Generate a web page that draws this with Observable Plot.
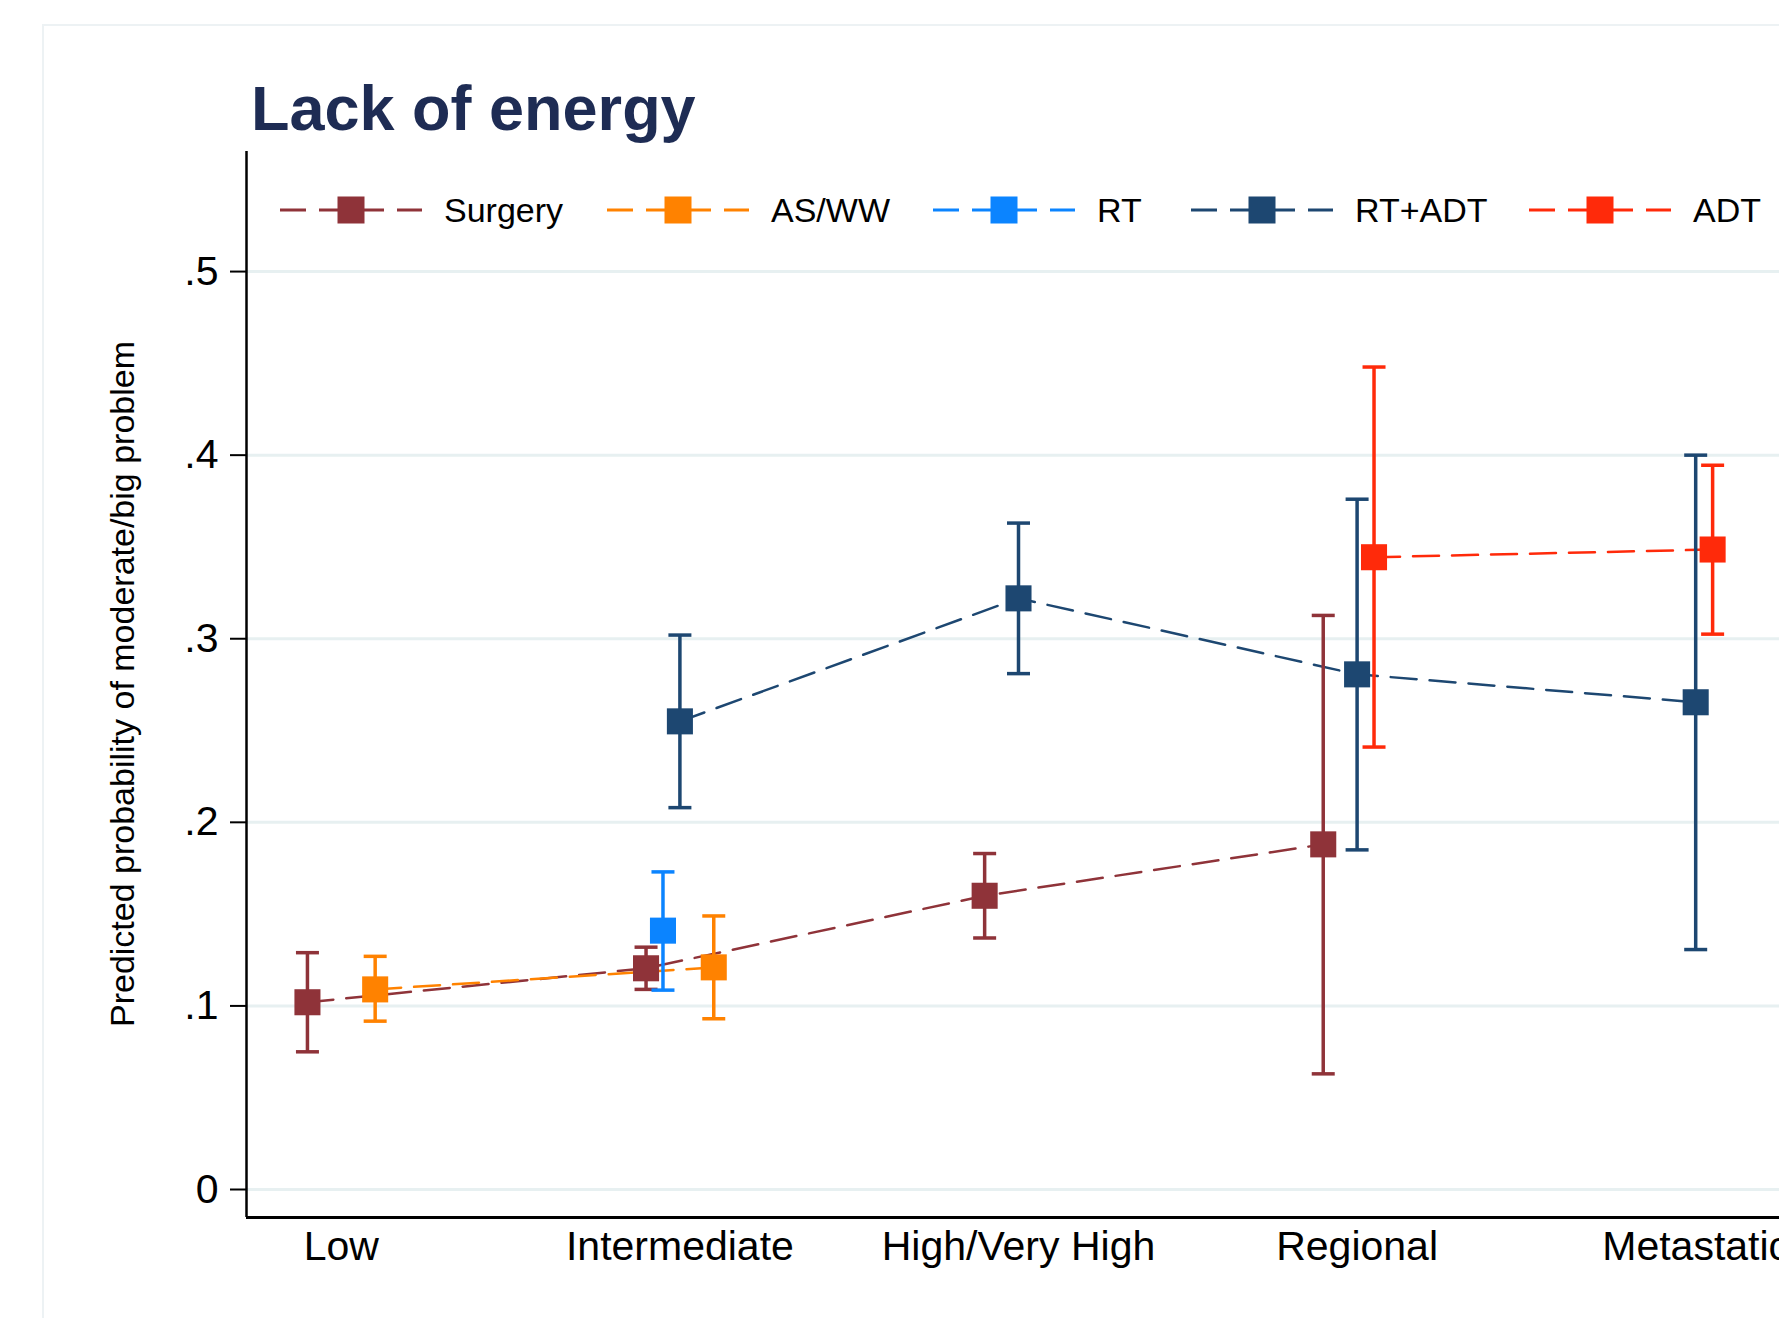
<!DOCTYPE html>
<html><head><meta charset="utf-8">
<script src="https://cdn.jsdelivr.net/npm/d3@7"></script>
<script src="https://cdn.jsdelivr.net/npm/@observablehq/plot@0.6"></script>
<style>
html,body{margin:0;padding:0;background:#fff;}
#wrap{position:relative;width:1779px;height:1318px;overflow:hidden;background:#fff;font-family:"Liberation Sans",Arial,Helvetica,sans-serif;}
#wrap > svg{position:absolute;left:0;top:0;max-width:none;}
</style></head><body><div id="wrap"></div>
<script>
// ---- data ----
const categories = ["Low", "Intermediate", "High/Very High", "Regional", "Metastatic"];
const seriesNames = ["Surgery", "AS/WW", "RT", "RT+ADT", "ADT"];
const yTicks = [0, 0.1, 0.2, 0.3, 0.4, 0.5];

const surgeryEst = [0.102, 0.1205, 0.160, 0.188, null];
const surgeryLo  = [0.075, 0.109, 0.137, 0.063, null];
const surgeryHi  = [0.129, 0.132, 0.183, 0.3127, null];

const aswwEst = [0.109, 0.121, null, null, null];
const aswwLo  = [0.0917, 0.093, null, null, null];
const aswwHi  = [0.127, 0.149, null, null, null];

const rtEst = [null, 0.141, null, null, null];
const rtLo  = [null, 0.1086, null, null, null];
const rtHi  = [null, 0.173, null, null, null];

const rtadtEst = [null, 0.255, 0.322, 0.2806, 0.2654];
const rtadtLo  = [null, 0.208, 0.281, 0.185, 0.1307];
const rtadtHi  = [null, 0.302, 0.363, 0.376, 0.400];

const adtEst = [null, null, null, 0.3444, 0.3486];
const adtLo  = [null, null, null, 0.241, 0.3025];
const adtHi  = [null, null, null, 0.448, 0.3945];

// ---- styling / layout ----
const colors = ["#8f3339", "#ff8200", "#0b84ff", "#1d4771", "#ff2a0a"];
const dodge = {"Surgery": -0.1, "AS/WW": 0.1, "RT": -0.05, "RT+ADT": 0, "ADT": 0.05};
const xDomain = [0.72, 5.28];
const yDomain = [-0.01525, 0.5654];
const FONT = "Liberation Sans, Arial, Helvetica, sans-serif";

const est = [surgeryEst, aswwEst, rtEst, rtadtEst, adtEst];
const lo = [surgeryLo, aswwLo, rtLo, rtadtLo, adtLo];
const hi = [surgeryHi, aswwHi, rtHi, rtadtHi, adtHi];
const rows = [];
seriesNames.forEach((s, i) => {
  est[i].forEach((v, j) => {
    if (v != null) rows.push({series: s, pos: j + 1 + dodge[s], est: v, lo: lo[i][j], hi: hi[i][j]});
  });
});

const capSymbol = {draw(ctx, size) { const r = Math.sqrt(size / Math.PI); ctx.moveTo(-r, 0); ctx.lineTo(r, 0); }};
const tickFmt = d => d === 0 ? "0" : d3.format(".1f")(d).replace(/^0/, "");

const chart = Plot.plot({
  width: 1790, height: 1318,
  marginLeft: 246, marginRight: 0, marginTop: 151, marginBottom: 101,
  style: {fontFamily: FONT, background: "transparent", overflow: "visible", maxWidth: "none"},
  x: {domain: xDomain},
  y: {domain: yDomain},
  color: {domain: seriesNames, range: colors},
  marks: [
    Plot.gridY({ticks: yTicks, stroke: "#e7f0f1", strokeOpacity: 1, strokeWidth: 3}),
    Plot.axisY({ticks: yTicks, tickFormat: tickFmt, tickSize: 16, tickPadding: 12, fontSize: 41, strokeWidth: 2, label: null}),
    Plot.axisX({ticks: [1, 2, 3, 4, 5], tickFormat: d => categories[d - 1], tickSize: 0, tickPadding: 13, fontSize: 41, label: null}),
    Plot.ruleX([xDomain[0]], {stroke: "black", strokeWidth: 2.5}),
    Plot.ruleY([yDomain[0]], {stroke: "black", strokeWidth: 3}),
    Plot.line(rows, {x: "pos", y: "est", z: "series", stroke: "series", strokeWidth: 2.5, strokeDasharray: "26,13"}),
    Plot.ruleX(rows, {x: "pos", y1: "lo", y2: "hi", stroke: "series", strokeWidth: 3.5}),
    Plot.dot(rows, {x: "pos", y: "lo", symbol: capSymbol, r: 11.5, stroke: "series", strokeWidth: 3.5, fill: "none"}),
    Plot.dot(rows, {x: "pos", y: "hi", symbol: capSymbol, r: 11.5, stroke: "series", strokeWidth: 3.5, fill: "none"}),
    Plot.dot(rows, {x: "pos", y: "est", symbol: "square", r: 14.7, fill: "series", stroke: "none"})
  ]
});
chart.style.maxWidth = "none";
const wrap = document.getElementById("wrap");
wrap.appendChild(chart);

// ---- overlay: frame, title, y title, legend ----
const ov = d3.select(wrap).append("svg").attr("width", 1779).attr("height", 1318)
  .style("font-family", FONT).style("pointer-events", "none");
ov.append("path").attr("d", "M43,1318V25H1779").attr("fill", "none").attr("stroke", "#edf2f4").attr("stroke-width", 2);
ov.append("text").attr("x", 251).attr("y", 130).attr("font-size", 63).attr("font-weight", "bold")
  .attr("fill", "#1e2c54").text("Lack of energy");
ov.append("text").attr("transform", "translate(134,684) rotate(-90)").attr("text-anchor", "middle")
  .attr("font-size", 34).attr("fill", "black").text("Predicted probability of moderate/big problem");

const legendStarts = [280, 607, 933, 1191, 1529];
const ly = 210;
seriesNames.forEach((s, i) => {
  const x0 = legendStarts[i];
  const g = ov.append("g");
  g.append("line").attr("x1", x0).attr("x2", x0 + 142).attr("y1", ly).attr("y2", ly)
    .attr("stroke", colors[i]).attr("stroke-width", 3).attr("stroke-dasharray", "26,13");
  g.append("rect").attr("x", x0 + 71 - 13.5).attr("y", ly - 13.5).attr("width", 27).attr("height", 27).attr("fill", colors[i]);
  g.append("text").attr("x", x0 + 164).attr("y", ly + 12).attr("font-size", 34).attr("fill", "black").text(s);
});
</script></body></html>
